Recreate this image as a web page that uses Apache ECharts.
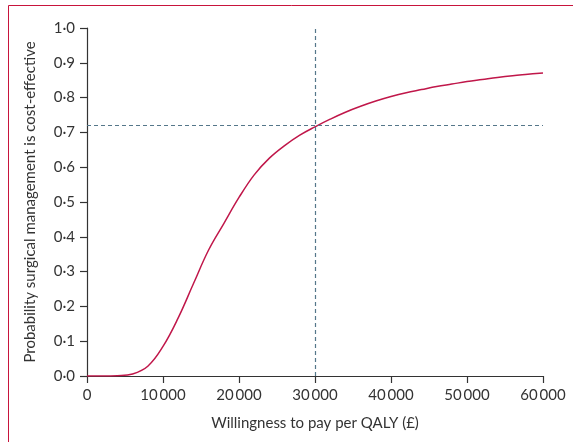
<!DOCTYPE html>
<html>
<head>
<meta charset="utf-8">
<script src="https://cdn.jsdelivr.net/npm/echarts@6/dist/echarts.min.js"></script>
<style>html,body{margin:0;padding:0;background:#fff}#c{width:573px;height:442px}</style>
</head>
<body>
<div id="c"></div>
<script>
var wtp = [0,2000,4000,6000,8000,10000,12000,14000,16000,18000,20000,22000,24000,26000,28000,30000,32000,34000,36000,38000,40000,42000,44000,46000,48000,50000,52000,54000,56000,58000,60000];
var prob = [0,0,0.001,0.006,0.028,0.085,0.167,0.265,0.362,0.438,0.513,0.578,0.626,0.662,0.692,0.716,0.738,0.758,0.775,0.79,0.803,0.814,0.823,0.832,0.839,0.846,0.852,0.858,0.863,0.867,0.871];
var threshold = 30000;
var probAtThreshold = 0.716;
var xTitle = 'Willingness to pay per QALY (£)';
var yTitle = 'Probability surgical management is cost-effective';

var font = 'Lato';
var chart = echarts.init(document.getElementById('c'));
chart.setOption({
  animation: false,
  graphic: [{type:'rect', shape:{x:8.5,y:5.5,width:600,height:500}, style:{fill:'none', stroke:'#c8143c', lineWidth:1}}],
  grid: {left:87, right:30, top:28, bottom:66},
  xAxis: {
    type:'value', min:0, max:60000, interval:10000,
    name: xTitle, nameLocation:'middle', nameGap:40,
    nameTextStyle:{fontFamily:font, fontSize:15, color:'#333'},
    axisLine:{show:true, lineStyle:{color:'#333', width:1.2}},
    axisTick:{show:true, length:7, lineStyle:{color:'#333', width:1.2}},
    axisLabel:{fontFamily:font, fontSize:15, color:'#333', margin:12,
      formatter:function(v){ if(v===0) return '0'; var s=String(v); return s.slice(0,s.length-3)+'\u2009'+s.slice(-3);} },
    splitLine:{show:false}
  },
  yAxis: {
    type:'value', min:0, max:1, interval:0.1,
    name: yTitle, nameLocation:'middle', nameGap:49,
    nameTextStyle:{fontFamily:font, fontSize:15, color:'#333'},
    axisLine:{show:true, lineStyle:{color:'#333', width:1.2}},
    axisTick:{show:true, length:7, lineStyle:{color:'#333', width:1.2}},
    axisLabel:{fontFamily:font, fontSize:15, color:'#333', margin:12,
      formatter:function(v){ return v.toFixed(1).replace('.', '\u00b7'); } },
    splitLine:{show:false}
  },
  series: [{
    type:'line', data: wtp.map(function(x,i){return [x, prob[i]];}),
    smooth:0.4, showSymbol:false, symbol:'none',
    lineStyle:{color:'#c0174a', width:1.5},
    markLine:{
      silent:true, symbol:['none','none'], label:{show:false},
      lineStyle:{color:'#55778a', type:[4,3], width:1.2},
      data:[{xAxis:threshold},{yAxis:probAtThreshold}]
    }
  }]
});
</script>
</body>
</html>
